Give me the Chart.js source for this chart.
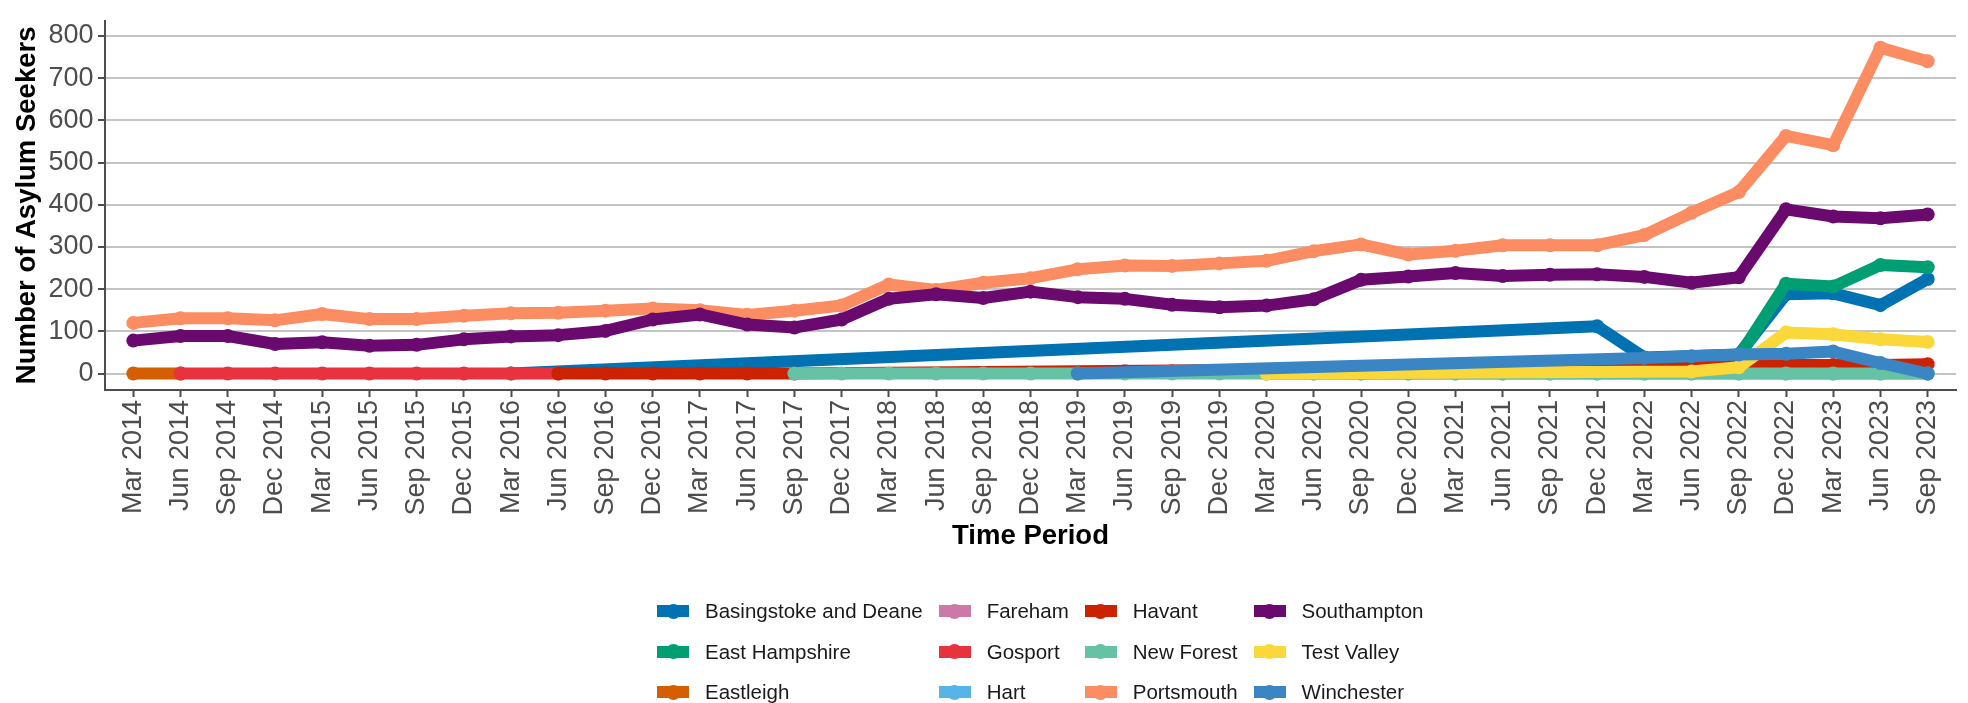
<!DOCTYPE html>
<html lang="en">
<head>
  <meta charset="UTF-8">
  <meta name="viewport" content="width=device-width, initial-scale=1.0">
  <title>Asylum Seekers by Local Authority</title>
  <script src="https://cdn.jsdelivr.net/npm/chart.js"></script>
  <style>
    body { margin: 0; background: #fff; font-family: 'Liberation Sans', Arial, sans-serif; }
    #wrap { position: relative; width: 1968px; height: 703px; overflow: hidden; }
    #legend {
      position: absolute; left: 657px; top: 591px;
      display: grid; grid-auto-flow: column; grid-template-rows: repeat(3, 40.5px);
      column-gap: 16px;
    }
    .item { display: flex; align-items: center; font-size: 20.5px; color: #1a1a1a; white-space: nowrap; }
    .key { position: relative; width: 32px; height: 15px; margin-right: 16px; }
    .key .ln { position: absolute; left: 0; right: 0; top: 1.5px; height: 12px; }
    .key .pt { position: absolute; left: 8.5px; top: 0; width: 15px; height: 15px; border-radius: 50%; }
  </style>
</head>
<body>

  <div id="wrap">
    <canvas id="asylumChart"></canvas>
    <div id="legend"></div>
  </div>

  <script>
    const n = null; // no reading for that quarter

    const periods = [
      'Mar 2014', 'Jun 2014', 'Sep 2014', 'Dec 2014',
      'Mar 2015', 'Jun 2015', 'Sep 2015', 'Dec 2015',
      'Mar 2016', 'Jun 2016', 'Sep 2016', 'Dec 2016',
      'Mar 2017', 'Jun 2017', 'Sep 2017', 'Dec 2017',
      'Mar 2018', 'Jun 2018', 'Sep 2018', 'Dec 2018',
      'Mar 2019', 'Jun 2019', 'Sep 2019', 'Dec 2019',
      'Mar 2020', 'Jun 2020', 'Sep 2020', 'Dec 2020',
      'Mar 2021', 'Jun 2021', 'Sep 2021', 'Dec 2021',
      'Mar 2022', 'Jun 2022', 'Sep 2022', 'Dec 2022',
      'Mar 2023', 'Jun 2023', 'Sep 2023'
    ];
    const yTicks = [0, 100, 200, 300, 400, 500, 600, 700, 800];

    // one value per quarter, 2014 .. 2023
    const basingstoke   = [n,n,n,n, n,n,n,n, 0,n,n,n, n,n,n,n, n,n,n,n, n,n,n,n, n,n,n,n, n,n,n,112, 38,n,45,188, 190,162,224];
    const eastHampshire = [n,n,n,n, n,n,n,n, n,n,n,n, n,n,n,n, n,n,n,n, n,n,n,n, n,n,n,n, n,n,n,n, n,n,40,213, 206,257,252];
    const eastleigh     = [0,0,n,n, n,n,n,n, n,n,n,n, n,n,n,n, n,n,n,n, n,n,n,n, n,n,n,n, n,n,n,n, n,n,n,n, n,n,n];
    const fareham       = [n,n,n,n, n,n,n,n, n,n,n,n, n,n,n,n, n,n,n,n, n,6,6,n, n,n,n,n, n,n,n,n, n,n,n,n, n,n,n];
    const gosport       = [n,0,0,0, 0,0,0,0, 0,0,n,n, n,n,n,n, n,n,n,n, n,n,n,n, n,n,n,n, n,n,n,n, n,n,n,n, n,n,n];
    const hart          = [n,n,n,n, n,n,n,n, n,n,n,n, n,n,n,n, n,n,n,n, n,n,n,n, 0,0,0,0, 0,0,0,0, 0,0,0,0, 0,0,0];
    const havant        = [n,n,n,n, n,n,n,n, n,0,0,0, 0,0,0,n, n,n,n,n, n,n,n,n, n,n,n,n, n,n,n,n, n,n,18,20, 20,20,22];
    const newForest     = [n,n,n,n, n,n,n,n, n,n,n,n, n,n,0,0, 0,0,0,0, 0,0,0,0, 0,0,0,0, 0,0,0,0, 0,0,0,0, 0,0,0];
    const portsmouth    = [120,131,131,126, 141,129,129,137, 143,144,149,154, 150,139,149,161, 211,198,215,226, 247,256,255,261, 267,290,306,282, 291,304,304,304, 328,381,430,563, 541,772,740];
    const southampton   = [78,89,89,70, 74,66,68,81, 88,91,101,128, 140,116,109,128, 177,188,179,194, 181,177,163,157, 161,176,222,230, 238,231,234,235, 229,215,228,389, 372,368,377];
    const testValley    = [n,n,n,n, n,n,n,n, n,n,n,n, n,n,n,n, n,n,n,n, n,n,n,n, 0,n,n,n, n,n,n,n, n,5,15,97, 93,81,75];
    const winchester    = [n,n,n,n, n,n,n,n, n,n,n,n, n,n,n,n, n,n,n,n, 0,n,n,n, n,n,n,n, n,n,n,n, 37,41,45,47, 52,25,0];

    const seriesNames = [
      'Basingstoke and Deane', 'East Hampshire', 'Eastleigh', 'Fareham',
      'Gosport', 'Hart', 'Havant', 'New Forest',
      'Portsmouth', 'Southampton', 'Test Valley', 'Winchester'
    ];
    const seriesValues = [
      basingstoke, eastHampshire, eastleigh, fareham,
      gosport, hart, havant, newForest,
      portsmouth, southampton, testValley, winchester
    ];
    const seriesColours = [
      '#0072B2', '#009E73', '#D55E00', '#CC79A7',
      '#E8333F', '#56B4E9', '#CC2200', '#66C2A5',
      '#FC8D62', '#6A0A6E', '#FBD83A', '#3A86C4'
    ];

    const font = "'Liberation Sans', Arial, sans-serif";

    const datasets = seriesNames.map((name, k) => ({
      label: name,
      data: seriesValues[k].map((v, i) => ({ x: i, y: v })),
      borderColor: seriesColours[k],
      backgroundColor: seriesColours[k],
      borderWidth: 12,
      borderJoinStyle: 'round',
      pointRadius: 7,
      pointBorderWidth: 0,
      pointHoverRadius: 7,
      tension: 0,
      spanGaps: true,
      order: seriesNames.length - k // later councils are painted over earlier ones
    }));

    const ctx = document.getElementById('asylumChart').getContext('2d');
    const asylumChart = new Chart(ctx, {
      type: 'line',
      data: { datasets: datasets },
      options: {
        responsive: true,
        maintainAspectRatio: false,
        animation: false,
        layout: { padding: { top: 7, right: 12, bottom: 146, left: 0 } },
        plugins: {
          legend: { display: false },
          tooltip: { enabled: false }
        },
        scales: {
          x: {
            type: 'linear',
            min: -0.6,
            max: 38.6,
            afterBuildTicks: (s) => { s.ticks = periods.map((p, i) => ({ value: i })); },
            afterFit: (s) => { s.height = 167; },
            grid: { drawOnChartArea: false, tickLength: 7, tickColor: '#4d4d4d', tickWidth: 2 },
            border: { color: '#4d4d4d', width: 2 },
            ticks: {
              autoSkip: false,
              minRotation: 90,
              maxRotation: 90,
              padding: 3,
              color: '#4d4d4d',
              font: { family: font, size: 27 },
              callback: (v) => periods[v]
            },
            title: {
              display: true,
              text: 'Time Period',
              color: '#000',
              font: { family: font, size: 27.5, weight: 'bold' },
              padding: { top: 0, bottom: 4 }
            }
          },
          y: {
            min: -39,
            max: 836,
            afterBuildTicks: (s) => { s.ticks = yTicks.map((v) => ({ value: v })); },
            afterFit: (s) => { s.width = 105; },
            grid: { color: '#c4c4c4', lineWidth: 2, tickLength: 7, tickColor: '#4d4d4d', tickWidth: 2 },
            border: { color: '#4d4d4d', width: 2 },
            ticks: {
              padding: 4.5,
              color: '#4d4d4d',
              font: { family: font, size: 27 },
              callback: (v) => String(v)
            },
            title: {
              display: true,
              text: 'Number of Asylum Seekers',
              color: '#000',
              font: { family: font, size: 27.5, weight: 'bold' },
              padding: { top: 11, bottom: 0 }
            }
          }
        }
      }
    });

    // legend laid out in columns, like the original
    const legend = document.getElementById('legend');
    seriesNames.forEach((name, k) => {
      const item = document.createElement('div');
      item.className = 'item';
      item.innerHTML = '<span class="key"><span class="ln"></span><span class="pt"></span></span>' + name;
      item.querySelector('.ln').style.background = seriesColours[k];
      item.querySelector('.pt').style.background = seriesColours[k];
      legend.appendChild(item);
    });
  </script>

</body>
</html>
